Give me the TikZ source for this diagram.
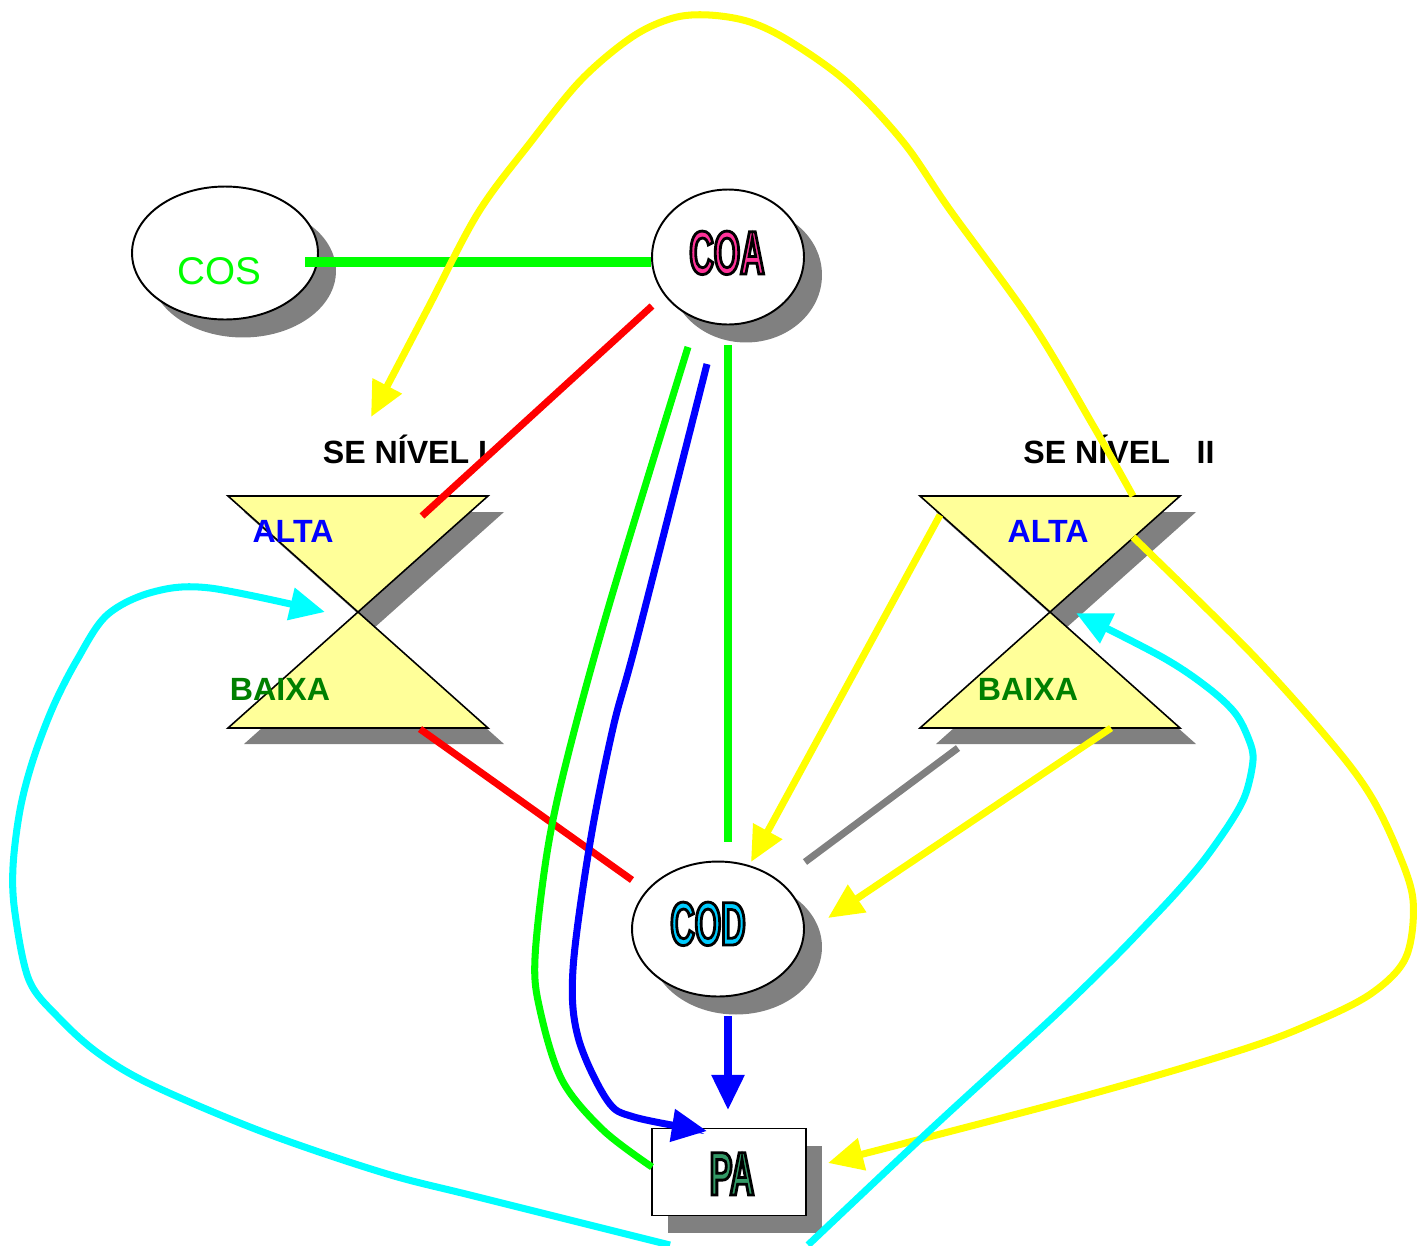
\documentclass[tikz,border=0pt]{standalone}
\usepackage{fontspec}
\setmainfont{Liberation Sans}
\newfontfamily\blockfont[FakeStretch=0.55]{Liberation Sans}
\usetikzlibrary{shapes.geometric,shadows,arrows.meta}
\definecolor{hgyellow}{HTML}{FFFF99}
\definecolor{coapink}{HTML}{FF3399}
\definecolor{codblue}{HTML}{00CCFF}
\definecolor{pagreen}{HTML}{339966}
\definecolor{dkgreen}{HTML}{008000}
\definecolor{lngreen}{RGB}{0,255,0}
\definecolor{lnyellow}{RGB}{255,255,0}
\definecolor{lncyan}{RGB}{0,255,255}
\definecolor{lnblue}{RGB}{0,0,255}
\definecolor{lnred}{RGB}{255,0,0}
% filled letters with a black rim
\newcommand\outlined[2]{\textcolor{#1}{\special{pdf:literal 2 Tr 0 0 0 RG 1.6 w}#2\special{pdf:literal 0 Tr}}}

\begin{document}
\begin{tikzpicture}[x=0.02cm,y=-0.02cm,
	dropgray/.style={drop shadow={shadow xshift=#1,shadow yshift=-#1,fill=gray,opacity=1}},
	blob/.style={ellipse,draw,line width=1.1pt,fill=white,dropgray=0.36cm},
	link/.style={line width=4pt},
	arr/.style={link,-{Triangle[length=20pt,width=18pt]}},
	curve/.style={smooth,tension=0.55},
	lbl/.style={font=\bfseries\fontsize{18.3}{20}\selectfont,anchor=base,inner sep=0pt},
	block/.style={font=\blockfont\bfseries\fontsize{35}{40}\selectfont,anchor=base,inner sep=0pt}]
	\useasboundingbox (0,0) rectangle (1423,1245);
	% the two hourglasses
	\foreach \X/\N/\A/\B/\S/\T in {358/I/293/280/405/{SE NÍVEL I},1050/II/1048/1028/1119/{SE NÍVEL\ \ \ II}} {
		\fill[gray] (\X-114,512) -- (\X+146,512) -- (\X+16,628) -- cycle
			(\X+16,628) -- (\X+146,744) -- (\X-114,744) -- cycle;
		\draw[fill=hgyellow,line width=0.9pt] (\X-130,496) -- (\X+130,496) -- (\X,612) -- cycle
			(\X,612) -- (\X+130,728) -- (\X-130,728) -- cycle;
		\node[lbl,text=lnblue] (alta\N) at (\A,542) {ALTA};
		\node[lbl,text=dkgreen] (baixa\N) at (\B,700) {BAIXA};
		\node[lbl] (se\N) at (\S,463) {\T};
	}
	% organs
	\node[blob,minimum width=3.72cm,minimum height=2.66cm] (cos) at (225,253) {};
	\node[anchor=base,inner sep=0pt,text=lngreen,font=\fontsize{22}{26}\selectfont] (cos-t) at (219,284) {COS};
	\node[blob,minimum width=3.04cm,minimum height=2.7cm] (coa) at (728,257) {};
	\node[block] (coa-t) at (727,274) {\outlined{coapink}{COA}};
	\node[blob,minimum width=3.44cm,minimum height=2.7cm] (cod) at (718,929) {};
	\node[block] (cod-t) at (708,945) {\outlined{codblue}{COD}};
	\node[rectangle,draw,line width=1.1pt,fill=white,drop shadow={shadow xshift=0.32cm,shadow yshift=-0.34cm,fill=gray,opacity=1},
		minimum width=3.08cm,minimum height=1.74cm] (pa) at (729,1172) {};
	\node[block] (pa-t) at (732,1195) {\outlined{pagreen}{PA}};
	% ends of the links
	\foreach \n/\x/\y in {cosE/305/262, coaW/651/262, coaSW/652/306, altaIr/422/516, baixaIr/420/729,
		codNW/632/880, coaS/728/345, codN/728/842, coaSa/688/347, paW/652/1167, coaSb/707/364,
		paN/707/1131, codS/728/1016, paNN/728/1110, baixaIIl/958/748, codNE/805/862, altaIIl/940/515,
		codNa/751/862, baixaIIr/1111/728, codE/828/918, altaIIt/1133/496, seIb/371/417,
		altaIIr/1133/537, paE/828/1163, cyanL/670/1245, hgI/325/612, cyanR/808/1245, hgII/1076/613}
		\coordinate (\n) at (\x,\y);
	\draw[link,lngreen,line width=5.8pt] (cosE) -- (coaW);
	\draw[link,lnred] (coaSW) -- (altaIr);
	\draw[link,lnred] (baixaIr) -- (codNW);
	\draw[link,lngreen] (coaS) -- (codN);
	\draw[link,lngreen] plot[curve] coordinates {(coaSa) (610,602) (567,759) (547,853) (535,958) (540,1010) (562,1080) (603,1130) (paW)};
	\draw[arr,lnblue] plot[curve] coordinates {(coaSb) (637,639) (613,728) (590,843) (573,969) (578,1037) (607,1100) (634,1117) (paN)};
	\draw[arr,lnblue] (codS) -- (paNN);
	\draw[link,gray] (baixaIIl) -- (codNE);
	\draw[arr,lnyellow] (altaIIl) -- (codNa);
	\draw[arr,lnyellow] (baixaIIr) -- (codE);
	\draw[arr,lnyellow] plot[curve] coordinates {(altaIIt) (1094,427) (1032,323) (950,210) (904,143) (848,83) (791,42) (750,22) (709,15)
		(673,18) (632,37) (581,80) (530,143) (478,213) (427,310) (seIb)};
	\draw[arr,lnyellow] plot[curve] coordinates {(altaIIr) (1251,653) (1329,740) (1369,793) (1396,847) (1413,900) (1406,957) (1372,993)
		(1315,1022) (1241,1050) (1077,1098) (paE)};
	\draw[arr,lncyan] plot[curve] coordinates {(cyanL) (478,1197) (384,1173) (263,1132) (152,1085) (98,1053) (58,1017) (29,980) (15,913)
		(13,867) (20,810) (33,760) (53,707) (77,660) (107,615) (153,592) (210,588) (hgI)};
	\draw[arr,lncyan] plot[curve] coordinates {(cyanR) (930,1130) (1050,1020) (1109,963) (1144,927) (1176,893) (1204,860) (1232,820)
		(1246,793) (1253,760) (1249,740) (1235,713) (1207,687) (1162,657) (hgII)};
\end{tikzpicture}
\end{document}
